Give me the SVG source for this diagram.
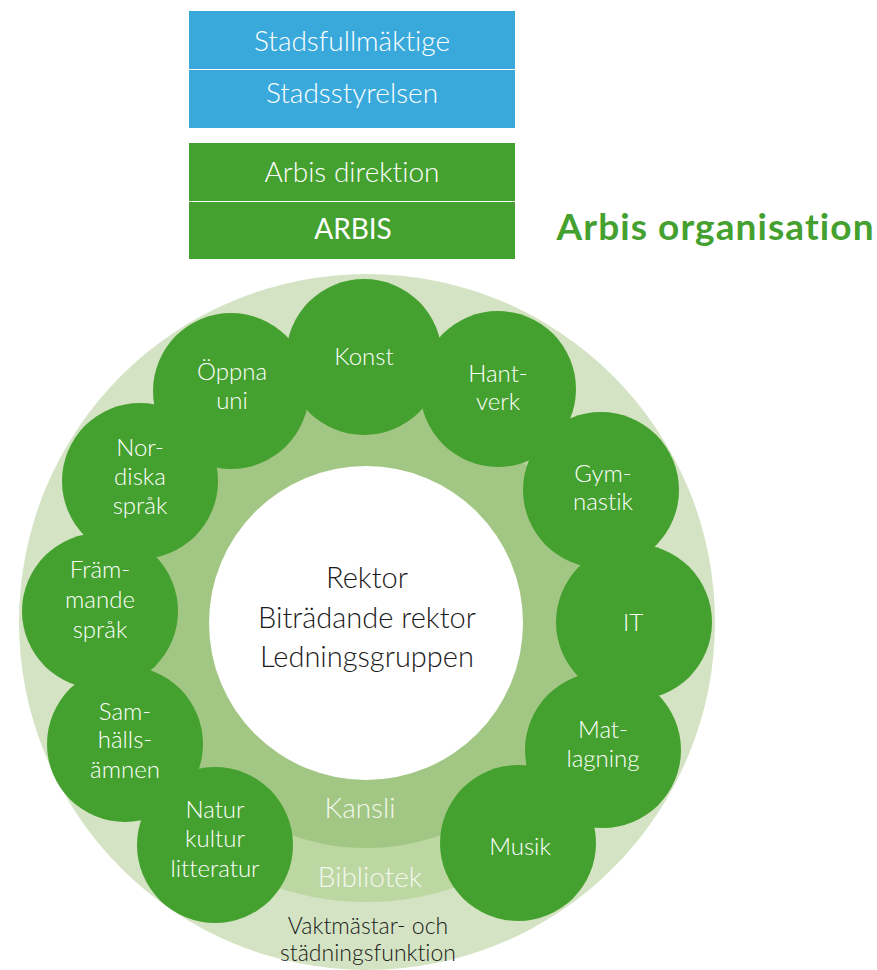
<svg xmlns="http://www.w3.org/2000/svg" width="877" height="970" viewBox="0 0 877 970">
<style>
text{font-family:Lato,"Liberation Sans",sans-serif;text-anchor:middle;font-variant-ligatures:none;font-feature-settings:"liga" 0,"dlig" 0}
.box{fill:#fff;font-size:28px;font-weight:300}
.node{fill:#45a12f}
.nl{fill:#fff;font-size:24px;font-weight:300}
.ring{fill:#f4f9ef;font-size:28px;font-weight:300}
.dark{fill:#1a1a1a;font-weight:300}
</style>
<rect width="877" height="970" fill="#fff"/>
<g id="stadsfullmaktige">
<rect x="189" y="11" width="326" height="58" fill="#39a9dc"/>
<text class="box" x="352" y="51">Stadsfullmäktige</text>
</g>
<g id="stadsstyrelsen">
<rect x="189" y="70" width="326" height="58" fill="#39a9dc"/>
<text class="box" x="352" y="103">Stadsstyrelsen</text>
</g>
<g id="arbis-direktion">
<rect x="189" y="143" width="326" height="58" fill="#45a12f"/>
<text class="box" x="352" y="182">Arbis direktion</text>
</g>
<g id="arbis">
<rect x="189" y="202" width="326" height="57" fill="#45a12f"/>
<text class="box" x="353" y="239" style="font-weight:400">ARBIS</text>
</g>
<g id="title">
<text x="715" y="240" style="font-size:37px;font-weight:700;fill:#45a12f" textLength="317">Arbis organisation</text>
</g>
<g id="rings">
<circle cx="367" cy="622" r="348" fill="#d4e3c3"/>
<circle cx="366" cy="623" r="279" fill="#bcd7a1"/>
<circle cx="366" cy="623" r="225" fill="#a2c683"/>
<circle cx="366" cy="623" r="157" fill="#fff"/>
</g>
<g id="center">
<text class="dark" x="367" y="588" font-size="29">Rektor</text>
<text class="dark" x="367" y="628" font-size="29">Biträdande rektor</text>
<text class="dark" x="367" y="667" font-size="29">Ledningsgruppen</text>
</g>
<g id="kansli"><text class="ring" x="360" y="818">Kansli</text></g>
<g id="bibliotek"><text class="ring" x="370" y="887" font-size="29">Bibliotek</text></g>
<g id="vaktmastar">
<text class="dark" x="368" y="934" font-size="23">Vaktmästar- och</text>
<text class="dark" x="368" y="961" font-size="23">städningsfunktion</text>
</g>
<g id="connectors"></g>
<g id="natur"><circle class="node" cx="215" cy="845" r="78"/>
<text class="nl" x="215" y="818">Natur</text><text class="nl" x="215" y="847">kultur</text><text class="nl" x="215" y="877">litteratur</text></g>
<g id="samhalls"><circle class="node" cx="125" cy="744" r="78"/>
<text class="nl" x="125" y="720">Sam-</text><text class="nl" x="125" y="748">hälls-</text><text class="nl" x="125" y="778">ämnen</text></g>
<g id="framm"><circle class="node" cx="100" cy="611" r="78"/>
<text class="nl" x="100" y="578">Främ-</text><text class="nl" x="100" y="608">mande</text><text class="nl" x="100" y="638">språk</text></g>
<g id="nordiska"><circle class="node" cx="140" cy="481" r="78"/>
<text class="nl" x="140" y="456">Nor-</text><text class="nl" x="140" y="485">diska</text><text class="nl" x="140" y="514">språk</text></g>
<g id="oppna"><circle class="node" cx="231" cy="391" r="78"/>
<text class="nl" x="232" y="380">Öppna</text><text class="nl" x="232" y="409">uni</text></g>
<g id="konst"><circle class="node" cx="364" cy="357" r="78"/>
<text class="nl" x="364" y="365">Konst</text></g>
<g id="hantverk"><circle class="node" cx="498" cy="389" r="78"/>
<text class="nl" x="498" y="382">Hant-</text><text class="nl" x="498" y="410">verk</text></g>
<g id="gymnastik"><circle class="node" cx="601" cy="490" r="78"/>
<text class="nl" x="603" y="482">Gym-</text><text class="nl" x="603" y="510">nastik</text></g>
<g id="it"><circle class="node" cx="634" cy="622" r="78"/>
<text class="nl" x="633" y="631">IT</text></g>
<g id="musik"><circle class="node" cx="518" cy="843" r="78"/>
<text class="nl" x="520" y="855">Musik</text></g>
<g id="matlagning"><circle class="node" cx="603" cy="750" r="78"/>
<text class="nl" x="603" y="738">Mat-</text><text class="nl" x="603" y="767">lagning</text></g>
</svg>
